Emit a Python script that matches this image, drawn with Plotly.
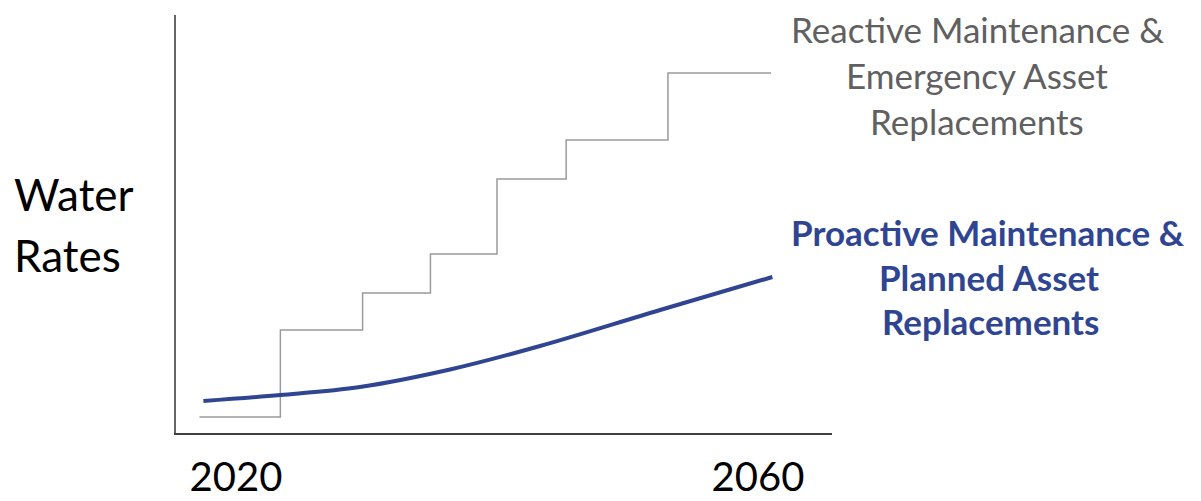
import plotly.graph_objects as go

# Reactive scenario: stepped rate increases (year at which each step starts, rate level)
step_years = [2017.2, 2023.4, 2029.7, 2034.9, 2040.0, 2045.3, 2053.1, 2061.0]
step_rates = [16, 103, 140, 179, 254, 293, 360, 360]

# Proactive scenario: gradual, smooth rate growth
smooth_years = [2017.5, 2023.4, 2029.5, 2036.4, 2043.3, 2052.5, 2061.1]
smooth_rates = [32, 38, 46, 63.5, 87, 123, 156]

tick_years = [2020, 2060]
tick_text = ["2020", "2060"]

reactive_lines = ["Reactive Maintenance &", "Emergency Asset", "Replacements"]
proactive_lines = ["Proactive Maintenance &", "Planned Asset", "Replacements"]
ylabel_lines = ["Water", "Rates"]

W, H = 1201, 501
L, R, T, B = 176, W - 832, 15, H - 433
PW, PH = W - L - R, H - T - B

GRAY = "#9a9a9a"
BLUE = "#2f4592"
FONT = "Lato"

fig = go.Figure()
fig.add_trace(go.Scatter(
    x=step_years, y=step_rates, mode="lines",
    line=dict(shape="hv", color=GRAY, width=1.5),
    showlegend=False, hoverinfo="skip",
))
fig.add_trace(go.Scatter(
    x=smooth_years, y=smooth_rates, mode="lines",
    line=dict(shape="spline", smoothing=1.0, color=BLUE, width=4),
    showlegend=False, hoverinfo="skip",
))

def px_x(p):
    return (p - L) / PW

def px_y(p):
    return (H - B - p) / PH

annotations = []
for txt, yc in zip(reactive_lines, [29, 75, 121]):
    annotations.append(dict(
        x=px_x(977), y=px_y(yc), xref="paper", yref="paper",
        xanchor="center", yanchor="middle", showarrow=False, text=txt,
        font=dict(family=FONT, size=35, color="#606060"),
    ))
for txt, yc, xc in zip(proactive_lines, [232, 277, 321], [988, 989, 991]):
    annotations.append(dict(
        x=px_x(xc), y=px_y(yc), xref="paper", yref="paper",
        xanchor="center", yanchor="middle", showarrow=False, text=f"<b>{txt}</b>",
        font=dict(family=FONT, size=35, color=BLUE),
    ))
for txt, yc in zip(ylabel_lines, [194, 255]):
    annotations.append(dict(
        x=px_x(12), y=px_y(yc), xref="paper", yref="paper",
        xanchor="left", yanchor="middle", showarrow=False, text=txt,
        font=dict(family=FONT, size=44, color="#000000"),
    ))

px_per_year = (758 - 236) / 40.0
x0 = 2020 + (L - 236) / px_per_year
x1 = 2020 + (L + PW - 236) / px_per_year

fig.update_layout(
    width=W, height=H,
    margin=dict(l=L, r=R, t=T, b=B, pad=0, autoexpand=False),
    paper_bgcolor="white", plot_bgcolor="white",
    annotations=annotations,
    xaxis=dict(
        range=[x0, x1], tickvals=tick_years, ticktext=tick_text,
        showgrid=False, zeroline=False, showline=True, automargin=False,
        linecolor="#3f3f3f", linewidth=1.5,
        ticks="outside", ticklen=8, tickcolor="rgba(0,0,0,0)",
        tickfont=dict(family=FONT, size=40, color="#000000"),
        fixedrange=True,
    ),
    yaxis=dict(
        range=[0, PH], showgrid=False, zeroline=False, showline=True,
        automargin=False,
        linecolor="#666666", linewidth=2, showticklabels=False, ticks="",
        fixedrange=True,
    ),
)

fig.write_html("out.html")
